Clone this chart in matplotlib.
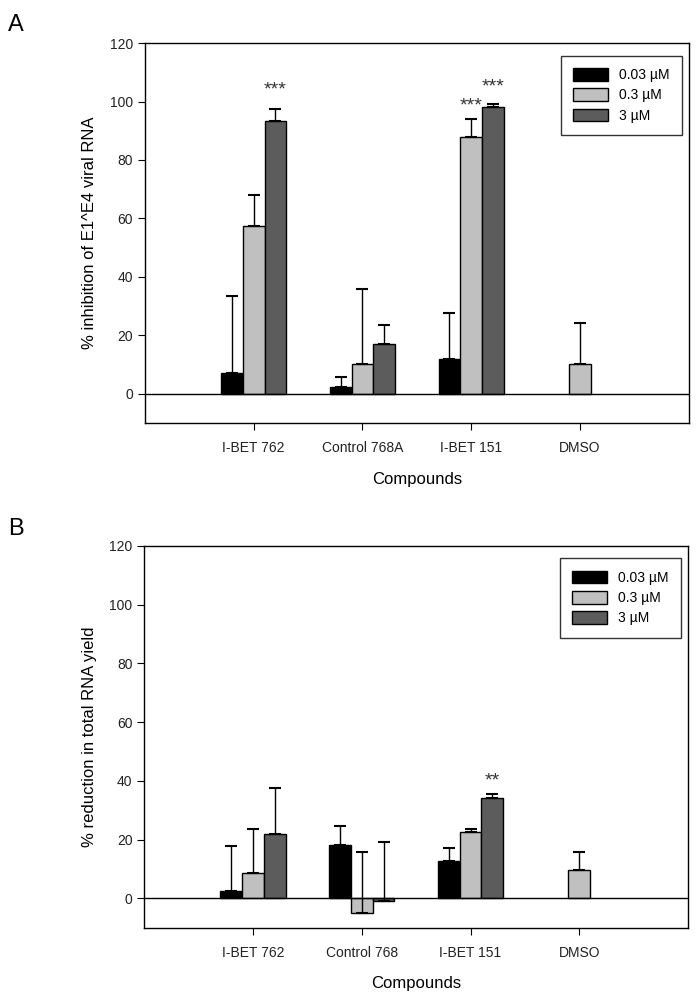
import numpy as np
import matplotlib
matplotlib.use("Agg")
import matplotlib.pyplot as plt

# Compounds and doses
compounds_a = ["I-BET 762", "Control 768A", "I-BET 151", "DMSO"]
compounds_b = ["I-BET 762", "Control 768", "I-BET 151", "DMSO"]
doses = ["0.03 \u00b5M", "0.3 \u00b5M", "3 \u00b5M"]
colors = ["#000000", "#c0c0c0", "#5c5c5c"]

# Panel A: % inhibition of E1^E4 viral RNA (rows = dose)
vals_a = [[7.0, 2.4, 11.9, np.nan],
          [57.5, 10.1, 88.0, 10.1],
          [93.5, 16.9, 98.0, np.nan]]
err_a = [[26.3, 3.4, 15.9, np.nan],
         [10.4, 25.9, 5.9, 14.0],
         [4.0, 6.8, 1.0, np.nan]]
# (dose index, compound index, label y)
stars_a = [(2, 0, 104, "***"), (1, 2, 98.5, "***"), (2, 2, 105, "***")]

# Panel B: % reduction in total RNA yield
vals_b = [[2.5, 18.1, 12.7, np.nan],
          [8.7, -5.1, 22.7, 9.6],
          [21.8, -0.9, 34.0, np.nan]]
err_b = [[15.4, 6.5, 4.5, np.nan],
         [14.9, 21.0, 1.0, 6.2],
         [15.9, 20.0, 1.4, np.nan]]
stars_b = [(2, 2, 40, "**")]

plt.rcParams['font.family'] = ['Liberation Sans', 'DejaVu Sans']

fig = plt.figure(figsize=(7, 10.01), dpi=100)


def draw_panel(ax, names, vals, errs, stars, ylabel):
    x = np.arange(1, len(names) + 1)
    width = 0.2
    for i, dose in enumerate(doses):
        pos = x + (i - 1) * width
        v = np.array(vals[i], dtype=float)
        e = np.array(errs[i], dtype=float)
        ax.bar(pos, v, width, color=colors[i], edgecolor="black",
               linewidth=1.0, label=dose, zorder=2)
        ok = ~np.isnan(v)
        ax.errorbar(pos[ok], v[ok], yerr=[np.zeros(ok.sum()), e[ok]],
                    fmt="none", ecolor="black", elinewidth=1.0,
                    capsize=4, capthick=1.5, zorder=3)
    for d, c, y, s in stars:
        ax.text(x[c] + (d - 1) * width, y, s, ha="center", va="center",
                fontsize=14, color="#333333")
    ax.axhline(0, color="black", linewidth=1.0, zorder=3)
    ax.set_xlim(0, 5)
    ax.set_ylim(-10, 120)
    ax.set_yticks(range(0, 121, 20))
    ax.set_xticks(x)
    ax.set_xticklabels(names, fontsize=10, color="#222222")
    ax.tick_params(axis="y", labelsize=10, direction="out", length=5,
                   labelcolor="#222222")
    ax.tick_params(axis="x", direction="out", length=5, pad=8)
    ax.set_ylabel(ylabel, fontsize=12, labelpad=9)
    ax.set_xlabel("Compounds", fontsize=12, labelpad=12)
    for sp in ax.spines.values():
        sp.set_linewidth(1.0)
    leg = ax.legend(loc="upper right", fontsize=10, frameon=True,
                    fancybox=False, edgecolor="black", handlelength=2.5,
                    handleheight=1.0, borderpad=0.9, labelspacing=0.45,
                    bbox_to_anchor=(1.0, 0.985))
    leg.get_frame().set_linewidth(1.0)


ax_a = fig.add_axes([0.207, 0.5774, 0.777, 0.3796])
draw_panel(ax_a, compounds_a, vals_a, err_a, stars_a,
           "% inhibition of E1^E4 viral RNA")
ax_b = fig.add_axes([0.206, 0.0732, 0.777, 0.3816])
draw_panel(ax_b, compounds_b, vals_b, err_b, stars_b,
           "% reduction in total RNA yield")

fig.text(0.012, 0.975, "A", fontsize=17, va="center")
fig.text(0.012, 0.472, "B", fontsize=17, va="center")

fig.savefig("out.png", dpi=100)
